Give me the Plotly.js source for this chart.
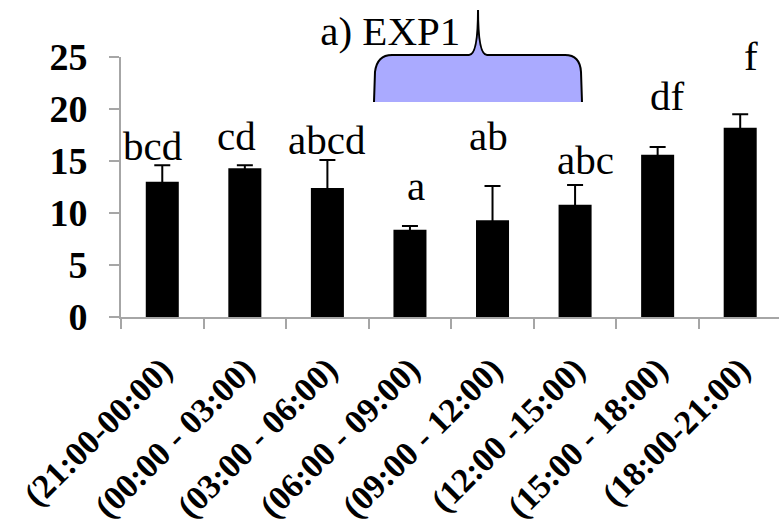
<!DOCTYPE html>
<html>
<head>
<meta charset="utf-8">
<script src="https://cdn.plot.ly/plotly-3.0.1.min.js"></script>
<style>
html,body{margin:0;padding:0;background:#fff;overflow:hidden;}
#chart{width:779px;height:531px;}
</style>
</head>
<body>
<div id="chart"></div>
<script>
// ---- data ----
const categories = ["(21:00-00:00)", "(00:00 - 03:00)", "(03:00 - 06:00)", "(06:00 - 09:00)",
                    "(09:00 - 12:00)", "(12:00 -15:00)", "(15:00 - 18:00)", "(18:00-21:00)"];
const means  = [13.0, 14.3, 12.4, 8.4, 9.3, 10.8, 15.6, 18.2];
const errors = [1.6, 0.3, 2.7, 0.35, 3.3, 1.9, 0.75, 1.3];
const letters = ["bcd", "cd", "abcd", "a", "ab", "abc", "df", "f"];
const letterY = [14.8, 15.8, 15.4, 11.0, 15.8, 13.5, 19.6, 23.5]; // baseline height of each letter group

// ---- layout constants ----
const W = 779, H = 531;
const M = {l: 121, r: 0, t: 57, b: 214};
const letterDx = [-10, -8, -1, 6, -4, 10, 10, 11];
const serif = "Liberation Serif, Times New Roman, serif";
const axisGray = "#a6a6a6";

function px2paper(px, py) {
  const pw = W - M.l - M.r, ph = H - M.t - M.b;
  return [((px - M.l) / pw).toFixed(4), ((H - M.b - py) / ph).toFixed(4)];
}
function pathFrom(cmds) {
  return cmds.map(c => c[0] + " " + c.slice(1).map(p => px2paper(p[0], p[1]).join(",")).join(" ")).join(" ");
}
const braceCmds = [
  ["M", [374, 102]], ["L", [375, 72]], ["Q", [377, 55], [392, 55]], ["L", [469, 55]],
  ["Q", [478, 55], [478, 10]], ["Q", [478, 55], [487, 55]], ["L", [565, 55]],
  ["Q", [580, 55], [581, 72]], ["L", [582, 102]]
];
const braceOutline = pathFrom(braceCmds);
const braceFill = braceOutline + " Z";

const trace = {
  type: "bar",
  x: categories,
  y: means,
  width: 0.4,
  marker: {color: "#000000", line: {width: 0}},
  error_y: {type: "data", array: errors, visible: true, color: "#000000", thickness: 2, width: 8},
  hoverinfo: "skip"
};

const annotations = letters.map((t, i) => ({
  x: categories[i], y: letterY[i], xref: "x", yref: "y",
  text: t, showarrow: false, yanchor: "bottom", xanchor: "center",
  yshift: -8, xshift: letterDx[i],
  font: {family: serif, size: 41, color: "#000000"}
}));

const layout = {
  width: W, height: H,
  margin: M,
  paper_bgcolor: "#ffffff",
  plot_bgcolor: "#ffffff",
  showlegend: false,
  title: {
    text: "a) EXP1",
    font: {family: serif, size: 41, color: "#000000"},
    xref: "container", yref: "container",
    x: 0.501, xanchor: "center", y: 0.942, yanchor: "middle"
  },
  xaxis: {
    type: "category",
    range: [-0.5, 7.47],
    tickson: "boundaries",
    ticks: "outside", ticklen: 10, tickwidth: 2, tickcolor: axisGray,
    showline: true, linecolor: axisGray, linewidth: 2,
    showgrid: false, zeroline: false,
    tickangle: -45,
    ticklabelstandoff: 17,
    tickfont: {family: serif, size: 34, color: "#000000", weight: "bold"}
  },
  yaxis: {
    range: [0, 25], dtick: 5, tick0: 0,
    ticks: "outside", ticklen: 10, tickwidth: 2, tickcolor: axisGray,
    showline: true, linecolor: axisGray, linewidth: 2,
    showgrid: false, zeroline: false,
    ticklabelstandoff: 14,
    tickfont: {family: serif, size: 38, color: "#000000", weight: "bold"}
  },
  annotations: annotations,
  shapes: [
    {type: "path", xref: "paper", yref: "paper", path: braceFill,
     fillcolor: "#aaaaff", line: {width: 0}, layer: "above"},
    {type: "path", xref: "paper", yref: "paper", path: braceOutline,
     fillcolor: "rgba(0,0,0,0)", line: {color: "#000000", width: 2}, layer: "above"}
  ]
};

Plotly.newPlot("chart", [trace], layout, {displayModeBar: false, staticPlot: true});
</script>
</body>
</html>
